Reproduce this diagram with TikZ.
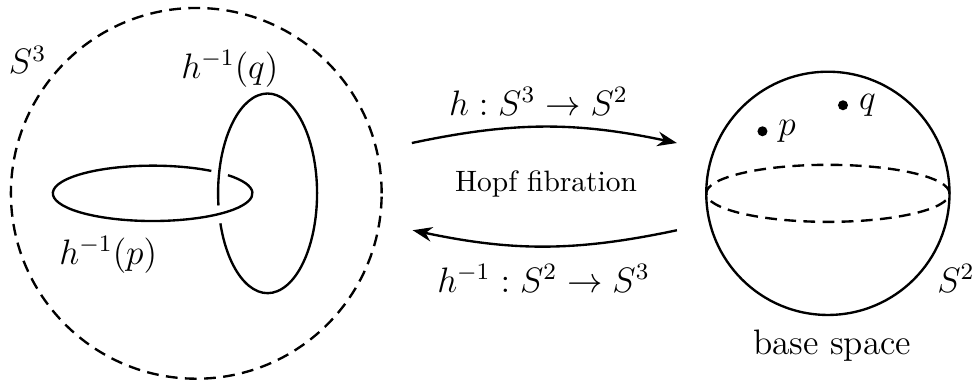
\documentclass[tikz,border=0pt]{standalone}
\usepackage{amsmath, amssymb}
\usepackage{tikz}
\usetikzlibrary{arrows.meta, positioning}

\begin{document}
\begin{tikzpicture}[
        ring/.style={thick},
        dashring/.style={thick, dash pattern=on 4pt off 2.5pt},
        maparrow/.style={thick, -{Stealth}},
        lbl/.style={font=\large},
        pt/.style={circle, fill, inner sep=1.2pt}
    ]
        \useasboundingbox (0,0) rectangle (11.6,4.565);

        % Drawing the total space S^3
        \draw [dashring] (2.34,2.26) circle (2.21);
        \node [lbl] (sthree) at (0.33,3.85) {$S^3$};

        % Drawing the two linked fibres (gaps at the crossings)
        \draw [ring] ([shift={(54:1.19 and 0.33)}]1.82,2.26) arc [start angle=54, end angle=401, x radius=1.19, y radius=0.33];
        \draw [ring] ([shift={(197.5:0.59 and 1.19)}]3.19,2.26) arc [start angle=197.5, end angle=547, x radius=0.59, y radius=1.19];
        \node [lbl] (fibq) at (2.74,3.74) {$h^{-1}(q)$};
        \node [lbl] (fibp) at (1.29,1.53) {$h^{-1}(p)$};

        % Drawing the maps between the two spaces
        \coordinate (fwdstart) at (4.91,2.86);
        \coordinate (fwdend) at (8.07,2.86);
        \coordinate (bwdstart) at (8.07,1.82);
        \coordinate (bwdend) at (4.92,1.82);
        \draw [maparrow] (fwdstart) to [bend left=12] (fwdend);
        \draw [maparrow] (bwdstart) to [bend left=12] (bwdend);
        \node [lbl] (maplabel) at (6.42,3.36) {$h : S^3 \to S^2$};
        \node (hopf) at (6.51,2.37) {Hopf fibration};
        \node [lbl] (invlabel) at (6.48,1.25) {$h^{-1} : S^2 \to S^3$};

        % Drawing the base space S^2 with its equator
        \draw [ring] (9.87,2.26) circle (1.45);
        \draw [dashring] (9.87,2.26) ellipse [x radius=1.45, y radius=0.34];
        \node [pt] (pdot) at (9.09,3.00) {};
        \node [pt] (qdot) at (10.05,3.31) {};
        \node [lbl, right=0pt of pdot] (plabel) {$p$};
        \node [lbl, right=0pt of qdot] (qlabel) {$q$};
        \node [lbl, anchor=west] (stwo) at (11.05,1.25) {$S^2$};
        \node [lbl] (base) at (9.92,0.45) {base space};
    \end{tikzpicture}
\end{document}
